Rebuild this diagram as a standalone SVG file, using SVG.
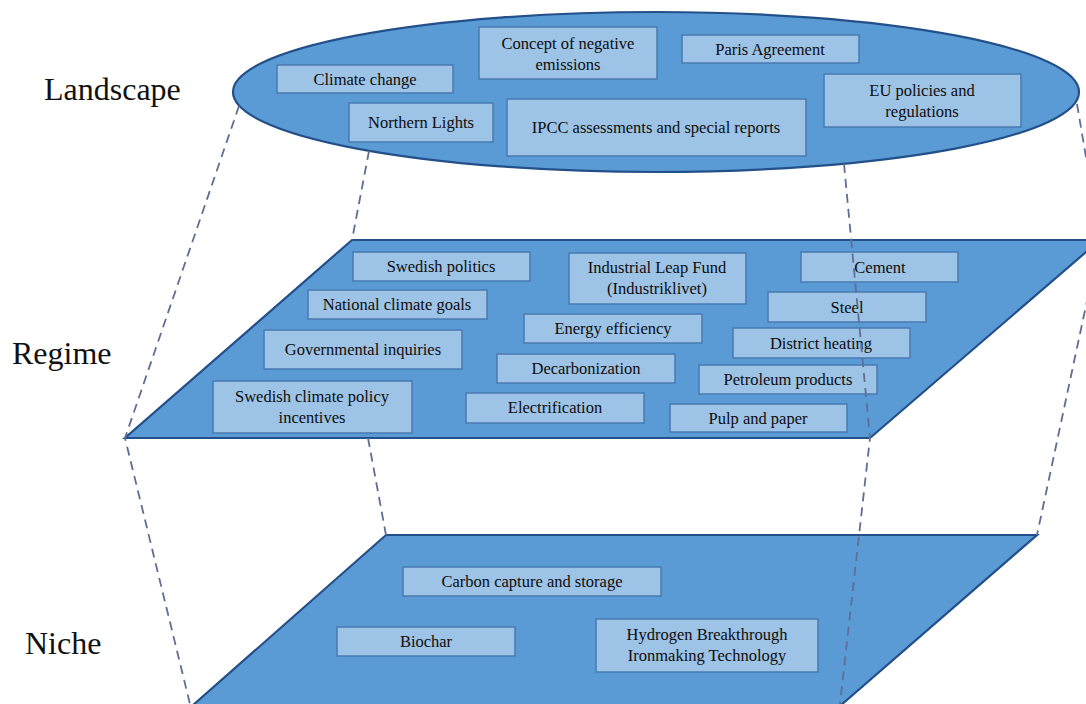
<svg xmlns="http://www.w3.org/2000/svg" width="1086" height="704" viewBox="0 0 1086 704">
<style>
.layer{fill:#5B9BD5;stroke:#24508A;stroke-width:2.2}
.box{fill:#9DC3E6;stroke:#4A7AB0;stroke-width:1.5}
.t{font-family:"Liberation Serif","Times New Roman",serif;font-size:16.5px;fill:#0d0d0d;text-anchor:middle}
.lbl{font-family:"Liberation Serif","Times New Roman",serif;font-size:32px;fill:#111}
.dash{fill:none;stroke:#5F6E96;stroke-width:1.8;stroke-dasharray:9 6}
</style>
<rect width="1086" height="704" fill="#ffffff"/>
<g id="labels">
<text class="lbl" x="44" y="100">Landscape</text>
<text class="lbl" x="12" y="364">Regime</text>
<text class="lbl" x="25" y="654">Niche</text>
</g>
<g id="niche-layer"><polygon class="layer" points="386,535 1037,535 840,706 192,706"/></g>
<g id="regime-layer"><polygon class="layer" points="352,240 1100,240 870,438 125,438"/></g>
<g id="landscape-layer"><ellipse class="layer" cx="656" cy="92" rx="423" ry="80"/></g>
<g id="n-climate"><rect class="box" x="277" y="65" width="176" height="28"/><text class="t" x="365" y="85">Climate change</text></g>
<g id="n-negative"><rect class="box" x="479" y="27" width="178" height="52"/><text class="t" x="568" y="49">Concept of negative</text><text class="t" x="568" y="70">emissions</text></g>
<g id="n-paris"><rect class="box" x="682" y="35" width="177" height="28"/><text class="t" x="770" y="55">Paris Agreement</text></g>
<g id="n-eu"><rect class="box" x="824" y="74" width="197" height="53"/><text class="t" x="922" y="96">EU policies and</text><text class="t" x="922" y="117">regulations</text></g>
<g id="n-northern"><rect class="box" x="349" y="103" width="144" height="39"/><text class="t" x="421" y="128">Northern Lights</text></g>
<g id="n-ipcc"><rect class="box" x="507" y="99" width="299" height="57"/><text class="t" x="656" y="133">IPCC assessments and special reports</text></g>
<g id="n-swpol"><rect class="box" x="353" y="252" width="177" height="29"/><text class="t" x="441" y="272">Swedish politics</text></g>
<g id="n-ilf"><rect class="box" x="569" y="253" width="177" height="51"/><text class="t" x="657" y="273">Industrial Leap Fund</text><text class="t" x="657" y="294">(Industriklivet)</text></g>
<g id="n-cement"><rect class="box" x="801" y="252" width="157" height="30"/><text class="t" x="880" y="273">Cement</text></g>
<g id="n-natgoals"><rect class="box" x="308" y="290" width="179" height="29"/><text class="t" x="397" y="310">National climate goals</text></g>
<g id="n-steel"><rect class="box" x="768" y="292" width="158" height="30"/><text class="t" x="847" y="313">Steel</text></g>
<g id="n-energy"><rect class="box" x="524" y="314" width="178" height="29"/><text class="t" x="613" y="334">Energy efficiency</text></g>
<g id="n-gov"><rect class="box" x="264" y="330" width="198" height="39"/><text class="t" x="363" y="355">Governmental inquiries</text></g>
<g id="n-district"><rect class="box" x="733" y="328" width="177" height="30"/><text class="t" x="821" y="349">District heating</text></g>
<g id="n-decarb"><rect class="box" x="497" y="354" width="178" height="29"/><text class="t" x="586" y="374">Decarbonization</text></g>
<g id="n-petro"><rect class="box" x="699" y="365" width="178" height="29"/><text class="t" x="788" y="385">Petroleum products</text></g>
<g id="n-incent"><rect class="box" x="213" y="381" width="199" height="52"/><text class="t" x="312" y="402">Swedish climate policy</text><text class="t" x="312" y="423">incentives</text></g>
<g id="n-elec"><rect class="box" x="466" y="393" width="178" height="30"/><text class="t" x="555" y="413">Electrification</text></g>
<g id="n-pulp"><rect class="box" x="670" y="404" width="177" height="28"/><text class="t" x="758" y="424">Pulp and paper</text></g>
<g id="n-ccs"><rect class="box" x="403" y="567" width="258" height="29"/><text class="t" x="532" y="587">Carbon capture and storage</text></g>
<g id="n-biochar"><rect class="box" x="337" y="627" width="178" height="29"/><text class="t" x="426" y="647">Biochar</text></g>
<g id="n-hybrit"><rect class="box" x="596" y="619" width="222" height="53"/><text class="t" x="707" y="640">Hydrogen Breakthrough</text><text class="t" x="707" y="661">Ironmaking Technology</text></g>
<g id="connectors">
<polyline class="dash" points="239,106 125,438 190,704"/>
<line class="dash" x1="369" y1="151" x2="352" y2="240"/>
<line class="dash" x1="368" y1="438" x2="386" y2="535"/>
<polyline class="dash" points="844,164 870,438 840,704"/>
<polyline class="dash" points="1077,104 1100,240 1037,535"/>
</g>
</svg>
